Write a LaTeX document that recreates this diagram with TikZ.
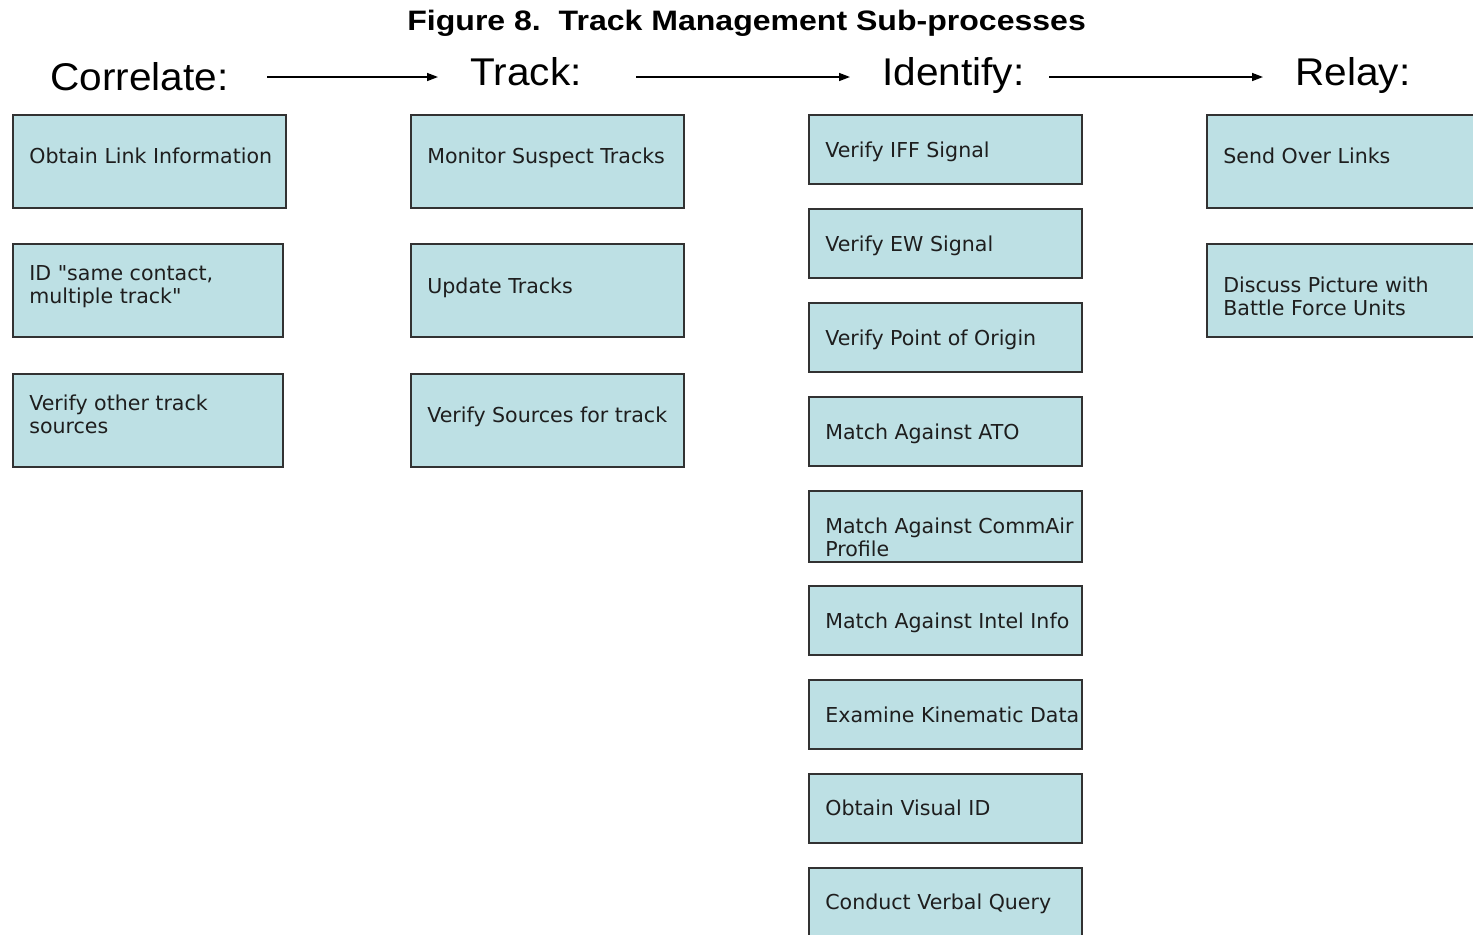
\documentclass[tikz,border=0pt]{standalone}
\usepackage{fontspec}
\usepackage{graphicx}
\setmainfont{Liberation Sans}
\newfontfamily\boxfont{DejaVu Sans}
\usetikzlibrary{arrows.meta}
\definecolor{boxfill}{RGB}{189,224,228}
\definecolor{boxline}{RGB}{50,50,50}
\definecolor{txt}{RGB}{30,30,30}
\newcommand{\hdrtext}[1]{\scalebox{1.05}[1]{\fontsize{22}{26}\selectfont #1}}
\newcommand{\twolines}[2]{\parbox[t]{8cm}{#1\\#2}}
\begin{document}
\begin{tikzpicture}[x=0.02cm,y=-0.02cm,
  box/.style={draw=boxline, fill=boxfill, line width=1.1pt, anchor=north west, inner sep=0,
              minimum width=5.46cm, minimum height=1.86cm},
  sbox/.style={box, minimum height=1.38cm},
  lbl/.style={anchor=base west, inner sep=0, font=\boxfont\fontsize{11.7}{13.6}\selectfont, text=txt},
  hdr/.style={anchor=base west, inner sep=0, text=black},
  arr/.style={line width=0.85pt, -{Triangle[length=0.22cm,width=0.16cm]}}]
\fill[white] (0,0) rectangle (1473,934);
\useasboundingbox (0,0) rectangle (1473,934);

% title
\node[hdr] (title) at (407,30) {\scalebox{1.14}[1]{\fontsize{16}{19}\selectfont\bfseries Figure 8.\ \ Track Management Sub-processes}};

% headers
\node[hdr] (hcorr) at (50,90) {\hdrtext{Correlate:}};
\node[hdr] (htrack) at (470,85) {\hdrtext{Track:}};
\node[hdr] (hident) at (882,85) {\hdrtext{Identify:}};
\node[hdr] (hrelay) at (1295,85) {\hdrtext{Relay:}};

\coordinate (a1s) at (267,77); \coordinate (a1e) at (438,77);
\coordinate (a2s) at (636,77); \coordinate (a2e) at (850,77);
\coordinate (a3s) at (1049,77); \coordinate (a3e) at (1263,77);
\draw[arr] (a1s) -- (a1e);
\draw[arr] (a2s) -- (a2e);
\draw[arr] (a3s) -- (a3e);

% column 1
\node[box] (c1a) at (12,114) {};
\node[box, minimum width=5.40cm] (c1b) at (12,243) {};
\node[box, minimum width=5.40cm] (c1c) at (12,373) {};
\node[lbl] (c1at) at (29,163) {Obtain Link Information};
\node[lbl] (c1bt) at (29,280) {\twolines{ID "same contact,}{multiple track"}};
\node[lbl] (c1ct) at (29,410) {\twolines{Verify other track}{sources}};

% column 2
\node[box] (c2a) at (410,114) {};
\node[box] (c2b) at (410,243) {};
\node[box] (c2c) at (410,373) {};
\node[lbl] (c2at) at (427,163) {Monitor Suspect Tracks};
\node[lbl] (c2bt) at (427,293) {Update Tracks};
\node[lbl] (c2ct) at (427,422) {Verify Sources for track};

% column 3
\node[sbox] (c3a) at (808,114) {};
\node[sbox] (c3b) at (808,208) {};
\node[sbox] (c3c) at (808,302) {};
\node[sbox] (c3d) at (808,396) {};
\node[sbox, minimum height=1.42cm] (c3e) at (808,490) {};
\node[sbox] (c3f) at (808,585) {};
\node[sbox] (c3g) at (808,679) {};
\node[sbox] (c3h) at (808,773) {};
\node[sbox] (c3i) at (808,867) {};
\node[lbl] (c3at) at (825,157) {Verify IFF Signal};
\node[lbl] (c3bt) at (825,251) {Verify EW Signal};
\node[lbl] (c3ct) at (825,345) {Verify Point of Origin};
\node[lbl] (c3dt) at (825,439) {Match Against ATO};
\node[lbl] (c3et) at (825,533) {\twolines{Match Against CommAir}{Profile}};
\node[lbl] (c3ft) at (825,628) {Match Against Intel Info};
\node[lbl] (c3gt) at (825,722) {Examine Kinematic Data};
\node[lbl] (c3ht) at (825,815) {Obtain Visual ID};
\node[lbl] (c3it) at (825,909) {Conduct Verbal Query};

% column 4
\node[box] (c4a) at (1206,114) {};
\node[box] (c4b) at (1206,243) {};
\node[lbl] (c4at) at (1223,163) {Send Over Links};
\node[lbl] (c4bt) at (1223,292) {\twolines{Discuss Picture with}{Battle Force Units}};
\end{tikzpicture}
\end{document}
